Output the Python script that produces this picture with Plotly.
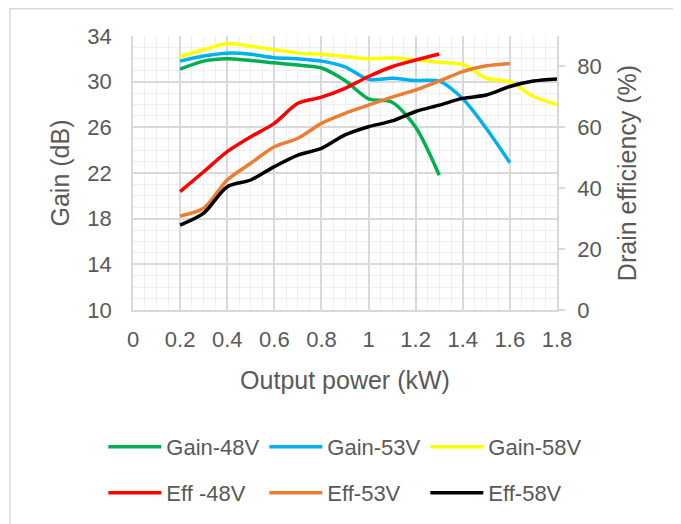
import plotly.graph_objects as go

# ---- data ----
p48 = [0.2, 0.3, 0.4, 0.5, 0.6, 0.7, 0.8, 0.9, 1.0, 1.1, 1.2, 1.3]
p53 = [0.2, 0.3, 0.4, 0.5, 0.6, 0.7, 0.8, 0.9, 1.0, 1.1, 1.2, 1.3, 1.4, 1.5, 1.6]
p58 = [0.2, 0.3, 0.4, 0.5, 0.6, 0.7, 0.8, 0.9, 1.0, 1.1, 1.2, 1.3, 1.4, 1.5, 1.6, 1.7, 1.8]

gain_48 = [31.1, 31.8, 32.0, 31.85, 31.65, 31.45, 31.2, 30.1, 28.5, 28.2, 26.0, 21.8]
gain_53 = [31.8, 32.25, 32.5, 32.4, 32.1, 32.0, 31.8, 31.3, 30.2, 30.3, 30.1, 30.05, 28.5, 25.9, 22.9]
gain_58 = [32.2, 32.8, 33.35, 33.1, 32.8, 32.5, 32.4, 32.2, 32.0, 32.1, 31.9, 31.7, 31.5, 30.3, 30.0, 28.7, 28.0]

eff_48 = [38.9, 45.4, 52.0, 56.9, 61.3, 67.9, 69.9, 72.8, 76.7, 79.9, 82.1, 84.1]
eff_53 = [30.9, 33.4, 42.7, 48.2, 53.6, 56.4, 61.3, 64.6, 67.3, 69.9, 72.3, 75.2, 78.3, 80.2, 81.0]
eff_58 = [27.9, 31.8, 40.5, 42.7, 47.1, 50.9, 53.1, 57.5, 60.2, 62.1, 65.2, 67.3, 69.5, 70.6, 73.4, 75.2, 75.9]

x_ticks = [0, 0.2, 0.4, 0.6, 0.8, 1.0, 1.2, 1.4, 1.6, 1.8]
x_tick_text = ["0", "0.2", "0.4", "0.6", "0.8", "1", "1.2", "1.4", "1.6", "1.8"]
gain_ticks = [10, 14, 18, 22, 26, 30, 34]
eff_ticks = [0, 20, 40, 60, 80]

FONT = "Liberation Sans, Arial, sans-serif"
TXT = "#595959"
GRID = "#d9d9d9"
MINOR = "#efefef"

fig = go.Figure()

series = [
    ("Gain-48V", p48, gain_48, "#00B050", "y", "legend"),
    ("Gain-53V", p53, gain_53, "#00B0F0", "y", "legend"),
    ("Gain-58V", p58, gain_58, "#FFFF00", "y", "legend"),
    ("Eff -48V", p48, eff_48, "#FF0000", "y2", "legend2"),
    ("Eff-53V", p53, eff_53, "#ED7D31", "y2", "legend2"),
    ("Eff-58V", p58, eff_58, "#000000", "y2", "legend2"),
]
for name, xs, ys, col, yax, leg in series:
    fig.add_trace(go.Scatter(
        x=xs, y=ys, name=name, mode="lines", yaxis=yax, legend=leg,
        line=dict(color=col, width=3.5, shape="spline", smoothing=0.8),
    ))

legend_common = dict(
    orientation="h", xanchor="left", yanchor="top", x=-0.07,
    entrywidth=93, entrywidthmode="pixels", itemwidth=53,
    font=dict(size=22, color=TXT), bgcolor="rgba(0,0,0,0)",
    itemclick=False, itemdoubleclick=False,
)

fig.update_layout(
    width=681, height=524,
    margin=dict(l=125, r=132, t=28, b=222, autoexpand=False),
    paper_bgcolor="white", plot_bgcolor="white",
    font=dict(family=FONT, color=TXT),
    xaxis=dict(
        range=[0, 1.8], tickvals=x_ticks, ticktext=x_tick_text, automargin=False,
        showgrid=True, gridcolor=GRID, gridwidth=1.5,
        minor=dict(dtick=0.05, showgrid=True, gridcolor=MINOR, gridwidth=1),
        showline=True, linecolor=GRID, linewidth=1.5,
        zeroline=False, ticks="", tickfont=dict(size=22, color=TXT),
        ticklabelstandoff=9,
        title=dict(text="Output power (kW)", font=dict(size=25, color=TXT), standoff=20),
    ),
    yaxis=dict(
        range=[10, 34], tickvals=gain_ticks, automargin=False,
        showgrid=True, gridcolor=GRID, gridwidth=1.5,
        minor=dict(dtick=1, showgrid=True, gridcolor=MINOR, gridwidth=1),
        showline=True, linecolor=GRID, linewidth=1.5,
        zeroline=False, ticks="", tickfont=dict(size=22, color=TXT),
        ticklabelstandoff=15,
        title=dict(text="Gain (dB)", font=dict(size=25, color=TXT), standoff=11),
    ),
    yaxis2=dict(
        range=[0, 90], tickvals=eff_ticks, overlaying="y", side="right", automargin=False,
        showgrid=False, showline=True, linecolor=GRID, linewidth=1.5,
        zeroline=False, ticks="outside", ticklen=6, tickcolor=GRID, tickwidth=1.5,
        tickfont=dict(size=22, color=TXT), ticklabelstandoff=8,
        title=dict(text="Drain efficiency (%)", font=dict(size=25, color=TXT), standoff=18),
    ),
    legend=dict(y=-0.4235, **legend_common),
    legend2=dict(y=-0.591, **legend_common),
    shapes=[dict(
        type="rect", xref="paper", yref="paper",
        x0=-0.29, x1=1.2807, y0=-0.85, y1=1.0995,
        line=dict(color=GRID, width=1.5), layer="below",
    )],
)

fig.write_html("out.html")
